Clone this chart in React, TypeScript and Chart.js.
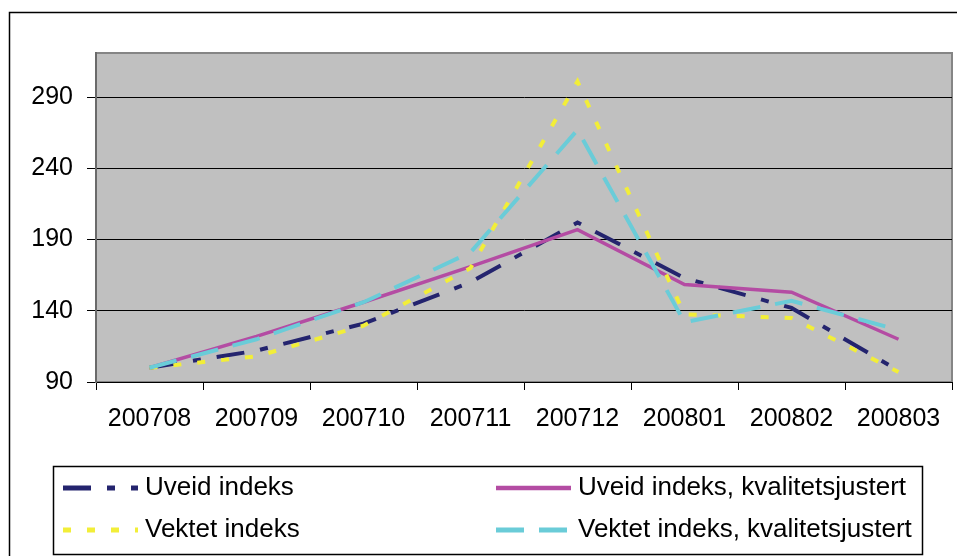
import React, { useEffect, useRef } from "react";
import { Chart, registerables } from "chart.js";

Chart.register(...registerables);

// ---- data ----
const categories = ["200708", "200709", "200710", "200711", "200712", "200801", "200802", "200803"];
const uveidIndeks = [100, 112, 131, 160, 202, 163, 142, 98];
const uveidKvalitet = [100, 122, 146, 171, 197, 158.5, 153, 120];
const vektetIndeks = [100, 108, 129.5, 170, 301, 137.5, 135, 97];
const vektetKvalitet = [100, 120, 146, 181, 267, 132, 147, 126.5];
const yTickValues = [90, 140, 190, 240, 290];
const yMin = 90;
const yMax = 321;

const FONT = '"Liberation Sans", Arial, sans-serif';

const framePlugin = {
  id: "frame",
  beforeDraw(chart: any) {
    const { ctx, chartArea: a } = chart;
    ctx.save();
    ctx.fillStyle = "#ffffff";
    ctx.fillRect(0, 0, chart.width, chart.height);
    // outer chart border
    ctx.strokeStyle = "#000000";
    ctx.lineWidth = 1.5;
    ctx.strokeRect(9.5, 12.5, 960, 600);
    // plot area
    ctx.fillStyle = "#C0C0C0";
    ctx.fillRect(a.left, a.top, a.right - a.left, a.bottom - a.top);
    ctx.strokeStyle = "#858585";
    ctx.lineWidth = 2;
    ctx.strokeRect(a.left, a.top, a.right - a.left, a.bottom - a.top);
    ctx.restore();
  },
  afterDraw(chart: any) {
    const { ctx } = chart;
    ctx.save();
    // legend box
    ctx.strokeStyle = "#000000";
    ctx.lineWidth = 1.5;
    ctx.strokeRect(53.5, 466.5, 869, 88);
    const slots = [
      { x: 63, y: 488 },
      { x: 496, y: 488 },
      { x: 63, y: 530 },
      { x: 496, y: 530 },
    ];
    chart.data.datasets.forEach((ds: any, i: number) => {
      const s = slots[i];
      ctx.save();
      ctx.beginPath();
      ctx.strokeStyle = ds.borderColor;
      ctx.lineWidth = ds.borderWidth + 1;
      ctx.lineCap = "butt";
      ctx.setLineDash(ds.borderDash || []);
      ctx.moveTo(s.x, s.y);
      ctx.lineTo(s.x + 75, s.y);
      ctx.stroke();
      ctx.restore();
      ctx.fillStyle = "#000000";
      ctx.font = `26px ${FONT}`;
      ctx.textBaseline = "middle";
      ctx.textAlign = "left";
      ctx.fillText(ds.label, s.x + 82, s.y);
    });
    ctx.restore();
  },
};

export default function App() {
  const ref = useRef<HTMLCanvasElement | null>(null);
  useEffect(() => {
    if (!ref.current) return;
    const mk = (label: string, data: number[], color: string, dash: number[], order: number, width: number) => ({
      label,
      data,
      borderColor: color,
      backgroundColor: color,
      borderWidth: width,
      borderDash: dash,
      borderCapStyle: "butt",
      borderJoinStyle: "miter",
      pointRadius: 0,
      pointHoverRadius: 0,
      tension: 0,
      fill: false,
      order,
    });
    const chart = new Chart(ref.current, {
      type: "line",
      data: {
        labels: categories,
        datasets: [
          mk("Uveid indeks", uveidIndeks, "#24246E", [28, 16, 8, 16], 4, 4),
          mk("Uveid indeks, kvalitetsjustert", uveidKvalitet, "#B44CA3", [], 3, 3.5),
          mk("Vektet indeks", vektetIndeks, "#F2EE38", [8, 16], 2, 4),
          mk("Vektet indeks, kvalitetsjustert", vektetKvalitet, "#6ACCD8", [28, 15], 1, 4),
        ] as any,
      },
      options: {
        responsive: false,
        animation: false,
        devicePixelRatio: 1,
        layout: { padding: { left: 0, top: 53, right: 5, bottom: 114 } },
        plugins: {
          legend: { display: false },
          tooltip: { enabled: false },
          title: { display: false },
        },
        scales: {
          x: {
            type: "category",
            offset: true,
            grid: {
              offset: true,
              drawOnChartArea: false,
              drawTicks: true,
              tickLength: 8,
              color: "#000000",
              lineWidth: 1,
            },
            border: { display: true, color: "#000000", width: 1 },
            ticks: {
              color: "#000000",
              font: { family: FONT, size: 25 },
              padding: 14,
              maxRotation: 0,
              autoSkip: false,
            },
            afterFit: (s: any) => {
              s.height = 60;
            },
          },
          y: {
            type: "linear",
            min: yMin,
            max: yMax,
            grid: {
              drawOnChartArea: true,
              drawTicks: true,
              tickLength: 9,
              color: "#000000",
              lineWidth: 1,
            },
            border: { display: true, color: "#6a6a6a", width: 2 },
            ticks: {
              color: "#000000",
              font: { family: FONT, size: 25 },
              padding: 14,
            },
            afterBuildTicks: (s: any) => {
              s.ticks = yTickValues.map((v) => ({ value: v }));
            },
            afterFit: (s: any) => {
              s.width = 96;
            },
          },
        },
      } as any,
      plugins: [framePlugin],
    });
    return () => chart.destroy();
  }, []);
  return (
    <div style={{ position: "absolute", left: 0, top: 0, width: 957, height: 556, overflow: "hidden" }}>
      <canvas ref={ref} width={957} height={556} style={{ display: "block" }} />
    </div>
  );
}
